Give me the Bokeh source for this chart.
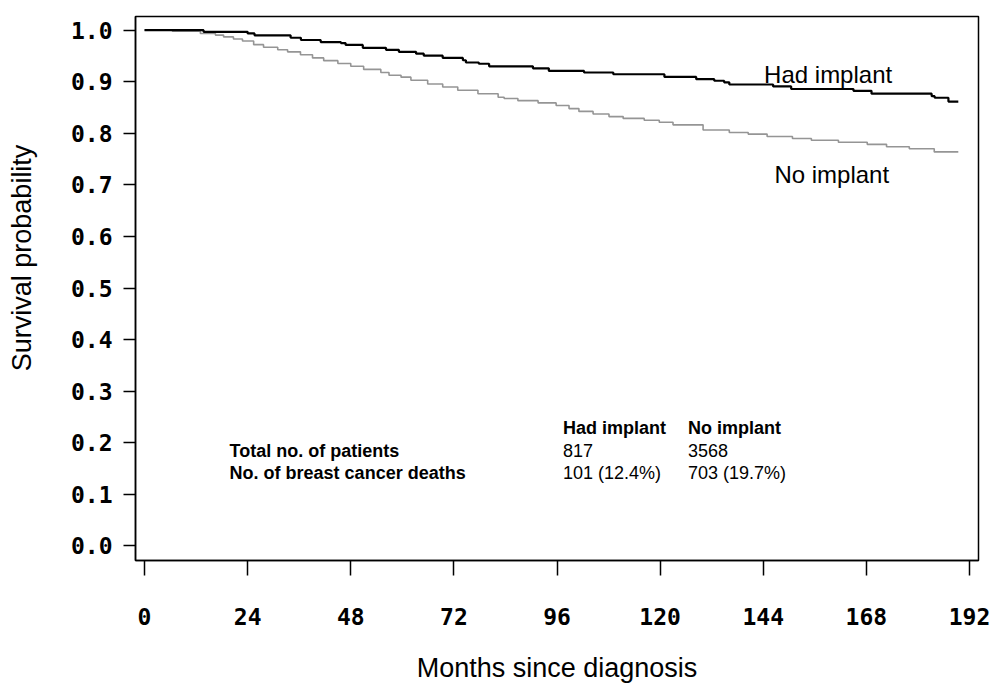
import math
from bokeh.plotting import figure
from bokeh.layouts import row
from bokeh.models import Range1d, FixedTicker, Label
from bokeh.embed import file_html
from bokeh.resources import INLINE

# ---- data ----
had_t = [0, 13.75, 24.0, 25.6, 34.0, 36.4, 41.0, 45.7, 46.8, 50.8, 56.2, 59.2, 63.2, 65.0,
         69.4, 74.1, 74.8, 77.8, 80.2, 90.4, 94.1, 102.3, 109.1, 121.0, 128.4, 132.6, 134.9,
         136.1, 146.3, 150.5, 165.0, 169.2, 183.2, 183.9, 187.1, 189.4]
had_s = [1.0, 0.9968, 0.9937, 0.990, 0.9854, 0.981, 0.977, 0.975, 0.9715, 0.9658, 0.962, 0.958,
         0.9545, 0.9507, 0.9463, 0.9417, 0.9374, 0.935, 0.930, 0.926, 0.921, 0.918, 0.9146,
         0.9095, 0.905, 0.902, 0.899, 0.8947, 0.891, 0.886, 0.8824, 0.877, 0.872, 0.869,
         0.8615, 0.8615]

no_t = [0, 6.5, 13.0, 16.5, 18.4, 20.7, 22.8, 25.4, 27.7, 31.0, 33.3, 36.3, 39.1, 41.7, 45.0,
        48.0, 51.0, 55.0, 56.9, 59.7, 62.0, 65.9, 69.4, 72.9, 77.6, 82.3, 83.7, 86.9, 91.6,
        95.8, 98.8, 101.1, 104.4, 108.1, 111.4, 116.3, 119.8, 123.0, 130.0, 136.1, 140.5,
        144.9, 150.8, 155.2, 161.5, 168.2, 172.7, 178.0, 183.8, 189.4]
no_s = [1.0, 0.998, 0.9937, 0.9905, 0.987, 0.983, 0.979, 0.972, 0.967, 0.962, 0.958, 0.9525,
        0.9463, 0.941, 0.9355, 0.930, 0.924, 0.918, 0.9127, 0.909, 0.903, 0.8956, 0.890,
        0.8837, 0.8767, 0.870, 0.8675, 0.8634, 0.859, 0.854, 0.848, 0.8425, 0.8374, 0.8325,
        0.829, 0.8254, 0.8216, 0.8165, 0.8065, 0.8016, 0.7985, 0.794, 0.790, 0.7865, 0.7827,
        0.7786, 0.774, 0.770, 0.764, 0.764]

x_ticks = [0, 24, 48, 72, 96, 120, 144, 168, 192]
y_ticks = [0.0, 0.1, 0.2, 0.3, 0.4, 0.5, 0.6, 0.7, 0.8, 0.9, 1.0]
y_tick_labels = {v: f"{v:.1f}" for v in y_ticks}

groups = ["Had implant", "No implant"]
total_patients = ["817", "3568"]
deaths = ["101 (12.4%)", "703 (19.7%)"]
row_labels = ["Total no. of patients", "No. of breast cancer deaths"]

H = 685
LW = 40  # width of the strip holding the y-axis title

# ---- y-axis title strip (pixel-space figure) ----
lab = figure(width=LW, height=H, output_backend="svg", toolbar_location=None,
             x_range=Range1d(0, LW), y_range=Range1d(0, H),
             min_border=0, min_border_left=0, min_border_right=0,
             min_border_top=0, min_border_bottom=0)
lab.axis.visible = False
lab.grid.visible = False
lab.outline_line_color = None
lab.background_fill_color = "white"
lab.border_fill_color = "white"
lab.add_layout(Label(x=21, y=381, text="Survival probability", angle=math.pi / 2,
                     text_font="Liberation Sans", text_font_size="27px", text_color="black",
                     text_align="center", text_baseline="middle"))

# ---- main figure ----
p = figure(width=1000 - LW, height=H, output_backend="svg", toolbar_location=None,
           x_range=Range1d(-2.1, 194.1), y_range=Range1d(-0.0285, 1.0266),
           min_border_left=135 - LW, min_border_right=22, min_border_top=16,
           min_border_bottom=113)
p.grid.visible = False
p.background_fill_color = "white"
p.border_fill_color = "white"
p.outline_line_color = "black"
p.outline_line_width = 1.5

TICK_FONT = "DejaVu Sans Mono"
for ax in (p.xaxis[0], p.yaxis[0]):
    ax.major_tick_in = 0
    ax.minor_tick_line_color = None
    ax.axis_line_color = "black"
    ax.axis_line_width = 1.5
    ax.major_tick_line_color = "black"
    ax.major_tick_line_width = 1.5
    ax.major_label_text_font = TICK_FONT
    ax.major_label_text_font_style = "bold"
    ax.major_label_text_font_size = "23px"
    ax.major_label_text_color = "black"
    ax.axis_label_text_font = "Liberation Sans"
    ax.axis_label_text_font_style = "normal"
    ax.axis_label_text_font_size = "27px"
    ax.axis_label_text_color = "black"

p.xaxis.ticker = FixedTicker(ticks=x_ticks)
p.xaxis.major_tick_out = 15
p.xaxis.major_label_standoff = 32
p.xaxis.axis_label = "Months since diagnosis"
p.xaxis.axis_label_standoff = 25

p.yaxis.ticker = FixedTicker(ticks=y_ticks)
p.yaxis.major_label_overrides = y_tick_labels
p.yaxis.major_tick_out = 12
p.yaxis.major_label_standoff = 11

# ---- curves ----
p.step(no_t, no_s, mode="after", line_color="#959595", line_width=1.6)
p.step(had_t, had_s, mode="after", line_color="black", line_width=2.2)

# ---- curve labels ----
p.add_layout(Label(x=144.2, y=0.9146, text=groups[0], text_font="Liberation Sans",
                   text_font_size="24px", text_color="black", text_baseline="alphabetic"))
p.add_layout(Label(x=146.6, y=0.721, text=groups[1], text_font="Liberation Sans",
                   text_font_size="24px", text_color="black", text_baseline="alphabetic"))

# ---- table ----
TF = "Liberation Sans"
TS = "18px"
row_y = [0.2278, 0.184, 0.1404]
col_x = [19.8, 97.4, 126.5]
for i, g in enumerate(groups):
    p.add_layout(Label(x=col_x[i + 1], y=row_y[0], text=g, text_font=TF, text_font_size=TS,
                       text_font_style="bold", text_color="black", text_baseline="alphabetic"))
    p.add_layout(Label(x=col_x[i + 1], y=row_y[1], text=total_patients[i], text_font=TF,
                       text_font_size=TS, text_color="black", text_baseline="alphabetic"))
    p.add_layout(Label(x=col_x[i + 1], y=row_y[2], text=deaths[i], text_font=TF,
                       text_font_size=TS, text_color="black", text_baseline="alphabetic"))
for j, r in enumerate(row_labels):
    p.add_layout(Label(x=col_x[0], y=row_y[j + 1], text=r, text_font=TF, text_font_size=TS,
                       text_font_style="bold", text_color="black", text_baseline="alphabetic"))

layout = row(lab, p, spacing=0)
open("out.html", "w").write(file_html(layout, INLINE))
